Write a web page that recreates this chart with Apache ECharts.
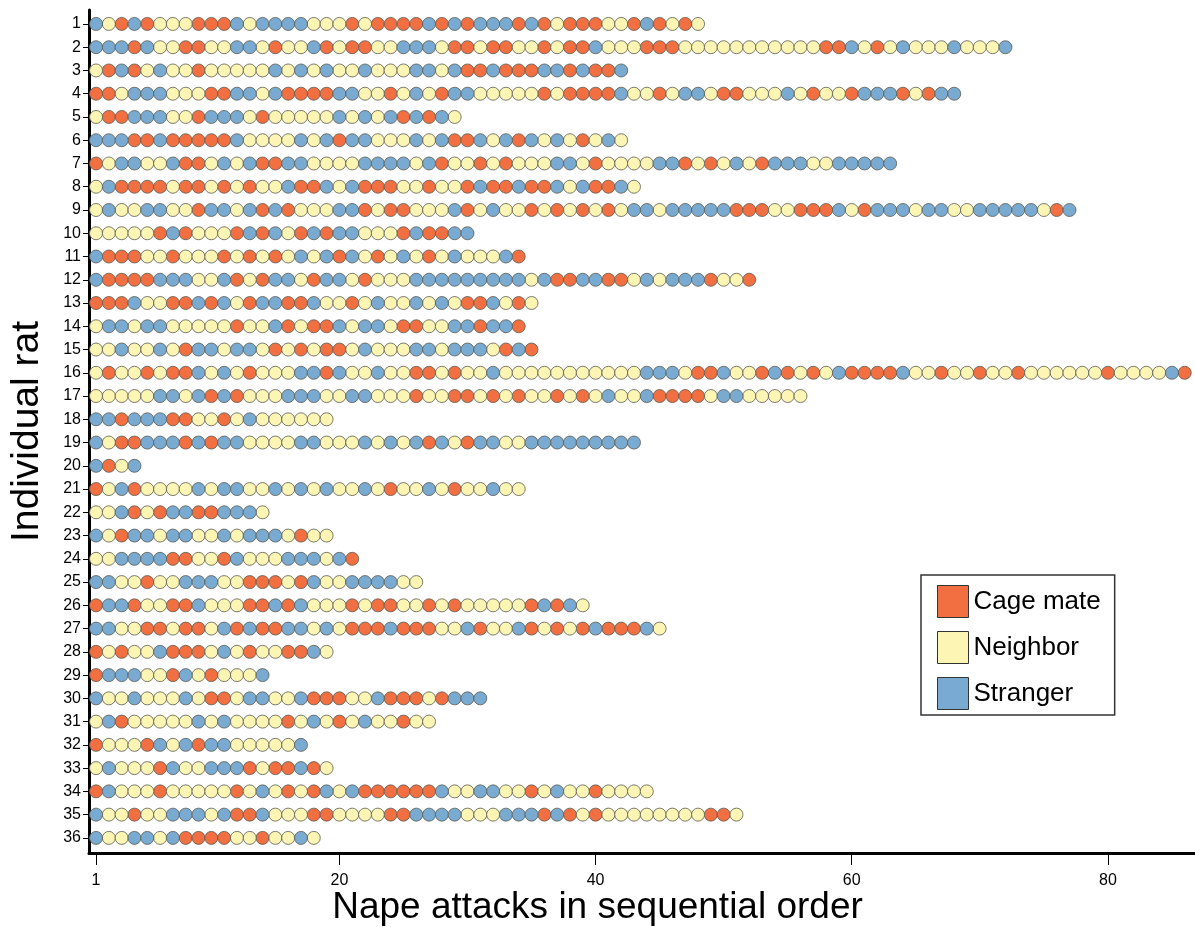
<!DOCTYPE html>
<html><head><meta charset="utf-8">
<script src="https://cdn.jsdelivr.net/npm/echarts@6/dist/echarts.min.js"></script>
<style>html,body{margin:0;padding:0;background:#fff}#c{width:1195px;height:927px}</style>
</head><body><div id="c"></div>
<script>
// C = Cage mate, N = Neighbor, S = Stranger ; one string per rat, attacks in order
const ratLabels = Array.from({length: 36}, (_, i) => String(i + 1));
const attackSequences = [
  "SNCSCNNNCCCSNSSSSNNN" + "CNCCCCSCSCSSSCSCNCCC" + "NNCSCNCN",
  "SSSCSNNCCNNSSNCNNSCN" + "CCNNSSSNCCNCCNNCNCCS" + "NNNCCCNNNNNNNNNNNCCS" + "NCNSNNNSNNNS",
  "NCSCNSNNCNNNNNSNSNSN" + "NSNNNSSNSCCSCCCSSCSC" + "CS",
  "CCNSSSNNNCCSSNSCCCCS" + "SNNCNSNCSSNNNNNCNCCC" + "CSNNCNSSNCCNNNSNCNNC" + "SSSCNCSS",
  "NCCSSSNNCSSSNCNNNNNS" + "NSNSCSCSN",
  "SSSCCSCCCCCSNNNNSNSC" + "SSNNNSNSCCSNSCSNSNCN" + "SN",
  "CNSSNNSCCNSNSCCSSNNN" + "NSSSSNSCNNCNCNNNSSNC" + "NNNNSSCNCNSNCSSSNNSS" + "SSS",
  "NSCCCCNCCNCNCNNSCCSN" + "SCCCNNCNNCSCCSCCSNSC" + "CSN",
  "NSNNSSNNCSSNSCSCNNNS" + "SCNCCNNNSCNSNNCNCNCN" + "CNSSNSSSSSCCCNNCCCSN" + "CSSSNSSNNSSSSSNCS",
  "NNNNNCSCNNNCSCSNCSCS" + "SNNNCSCCSS",
  "SCCCNNCNNNCNCNCNSNSC" + "SNCNSNCNSNNNSC",
  "SCCCCSSSNNSCNCSSNCSS" + "NCNNNSSSSSSSSSNSCCSS" + "CCNSNSSSCNNC",
  "CCCSNNCCSCSNCSSCCSNN" + "CNSNNSNSNCCSNCN",
  "NSSNSSNNNNNCNNSCNCCS" + "NSSNCCNNSSCSSC",
  "NNSNNSNCSSNSSNCNCNCC" + "NSNNNSSNSSSNCSC",
  "NCNNCNCCSNSNCNNNSSCS" + "NNSNNCCNCNNSNNNNNNNN" + "NNNSSSNCCSNNCSCN" + "CNSCCCCSNN" + "CNNCNNCNNN" + "NNNCNNNNSC",
  "NNNNNSSNSCSCNNNSSSNN" + "SSNNNCNNCCNCNCNNCNCN" + "SNNSCCCCNSSNNNNN",
  "SSCSSSCCNNCNSNNNNNN",
  "SNCCSSSCSCSSNNNNSSNN" + "NSNSNSCSNCSSNNSSSSSS" + "SSS",
  "SCNS",
  "CNSCNNNNSNSSNNSNSNSN" + "NSNCNNSNCNNSNN",
  "NNSCNCSSCCSSSN",
  "SNCSSNSSNNSNSSSNCNN",
  "NNSSSSCCNNCSNNNSSSNSC",
  "SSNNCNNSSSNNCCCNCSNN" + "SSSSNN",
  "CSSCNNCCSNNNCCSCSNNN" + "CNCCNNCNCNNNNNCSCSN",
  "SSNNCCNCCNSCSCCSSNSN" + "CCCSCCCNNSCNNSCNCNCS" + "CCCSN",
  "CNCNNSCCCNSNCNNCCSN",
  "CSSSNNCSNCNNNS",
  "SNNSNNNSNCCNSSNNSCCC" + "NNSCCCNCSSS",
  "NSCNNNNNSNSNNNNCNSNC" + "NSNNCNN",
  "CNNNCSNSCSSNNNNNS",
  "NSNNNCSNNSSSCNCCSCN",
  "CSNNNCNNNNNCNSNCNCSN" + "SCCCCCCSNNSSNNCNSNNC" + "NNNN",
  "SNNCNNSSSNSCCSNNNCCN" + "NNNCCSSSSNNNSSSCSCNC" + "NNNNNNNNCCN",
  "SNNSSNSCCCCNNCNNSN"
];
const categoryCodes = ["C", "N", "S"];
const categoryNames = ["Cage mate", "Neighbor", "Stranger"];
const categoryColors = ["#F26F41", "#FCF5B4", "#79AAD1"];
const xTickValues = [1, 20, 40, 60, 80];
const yTickValues = ratLabels.map(Number);

const FONT = "'Liberation Sans', Arial, sans-serif";

const series = categoryCodes.map((code, k) => {
  const data = [];
  attackSequences.forEach((seq, r) => {
    for (let j = 0; j < seq.length; j++) {
      if (seq[j] === code) data.push([j + 1, r + 1]);
    }
  });
  return {
    name: categoryNames[k],
    type: "scatter",
    symbol: "circle",
    symbolSize: 13,
    data,
    itemStyle: { color: categoryColors[k], borderColor: "#5a5a50", borderWidth: 0.8, opacity: 1 },
    emphasis: { disabled: true },
    silent: true
  };
});

const chart = echarts.init(document.getElementById("c"), null, { renderer: "canvas" });
chart.setOption({
  animation: false,
  backgroundColor: "#fff",
  title: {
    text: "Nape attacks in sequential order",
    left: "center",
    top: 884,
    textStyle: { fontSize: 37, fontWeight: "normal", color: "#000", fontFamily: FONT }
  },
  legend: {
    orient: "vertical",
    left: 921,
    top: 575,
    data: categoryNames,
    icon: "rect",
    itemWidth: 31,
    itemHeight: 32,
    itemGap: 13,
    padding: [10, 14, 5, 16],
    borderColor: "#333",
    borderWidth: 1.5,
    backgroundColor: "#fff",
    itemStyle: { borderColor: "#333", borderWidth: 1 },
    textStyle: { fontSize: 26, color: "#000", fontFamily: FONT },
    selectedMode: false
  },
  grid: { left: 88, right: 0, top: 10, bottom: 74, containLabel: false },
  xAxis: {
    type: "value",
    min: 0.45,
    max: 86.8,
    splitLine: { show: false },
    axisLine: { onZero: false, lineStyle: { color: "#000", width: 3 } },
    axisTick: { show: true, customValues: xTickValues, length: 12, lineStyle: { color: "#000", width: 1 } },
    axisLabel: { customValues: xTickValues, fontSize: 16, color: "#000", margin: 20, fontFamily: FONT }
  },
  yAxis: {
    type: "value",
    inverse: true,
    min: 0.4,
    max: 36.65,
    splitLine: { show: false },
    axisLine: { show: true, onZero: false, lineStyle: { color: "#000", width: 3 } },
    axisTick: { show: true, customValues: yTickValues, length: 6, lineStyle: { color: "#000", width: 1 } },
    axisLabel: { customValues: yTickValues, fontSize: 16, color: "#000", margin: 8, fontFamily: FONT },
    name: "Individual rat",
    nameLocation: "middle",
    nameGap: 42,
    nameRotate: 90,
    nameTextStyle: { fontSize: 39, color: "#000", fontFamily: FONT }
  },
  series
});
</script></body></html>
